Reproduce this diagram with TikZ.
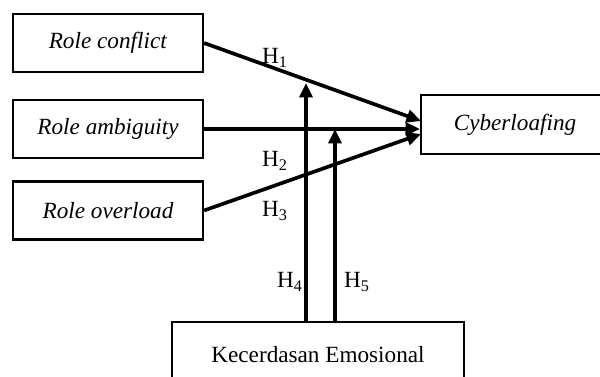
\documentclass[tikz,border=0pt]{standalone}
\usepackage{fontspec}
\setmainfont{Liberation Serif}
\usetikzlibrary{arrows.meta}

\begin{document}
\begin{tikzpicture}[x=0.025cm,y=-0.025cm,
    caixa/.style={draw,line width=1.5pt,minimum width=4.75cm,minimum height=1.45cm,
                  inner sep=0pt,font=\fontsize{16.5}{19}\selectfont},
    fletxa/.style={line width=2.6pt,-{Triangle[length=3.6mm,width=3.2mm]}},
    etiqueta/.style={inner sep=0pt,font=\fontsize{16.5}{19}\selectfont}]
        \useasboundingbox (0,0) rectangle (600,376);
        \clip (0,0) rectangle (600,376);
        % Caixes
        \node[caixa] (rc) at (108,43) {\textit{Role conflict}};
        \node[caixa] (ra) at (108,129) {\textit{Role ambiguity}};
        \node[caixa] (ro) at (108,210.5) {\textit{Role overload}};
        \node[caixa,minimum width=4.7cm,minimum height=1.48cm] (cy) at (515,124.5) {\textit{Cyberloafing}};
        \node[caixa,minimum width=7.3cm,minimum height=1.65cm] (ke) at (318,355) {Kecerdasan Emosional};
        % Punts d'arribada
        \coordinate (p1) at (421,121);
        \coordinate (p3) at (421,134);
        \coordinate (t4) at (306,83);
        \coordinate (t5) at (335,129);
        % Fletxes
        \draw[fletxa] (rc.east) -- (p1);
        \draw[fletxa] (ra.east) -- (ra.east -| cy.west);
        \draw[fletxa] (ro.east) -- (p3);
        \draw[fletxa] (ke.north -| t4) -- (t4);
        \draw[fletxa] (ke.north -| t5) -- (t5);
        % Hipotesis
        \node[etiqueta] (h1) at (275,58) {H\textsubscript{1}};
        \node[etiqueta] (h2) at (275,161) {H\textsubscript{2}};
        \node[etiqueta] (h3) at (275,211) {H\textsubscript{3}};
        \node[etiqueta] (h4) at (290,282) {H\textsubscript{4}};
        \node[etiqueta] (h5) at (357,282) {H\textsubscript{5}};
    \end{tikzpicture}
\end{document}
